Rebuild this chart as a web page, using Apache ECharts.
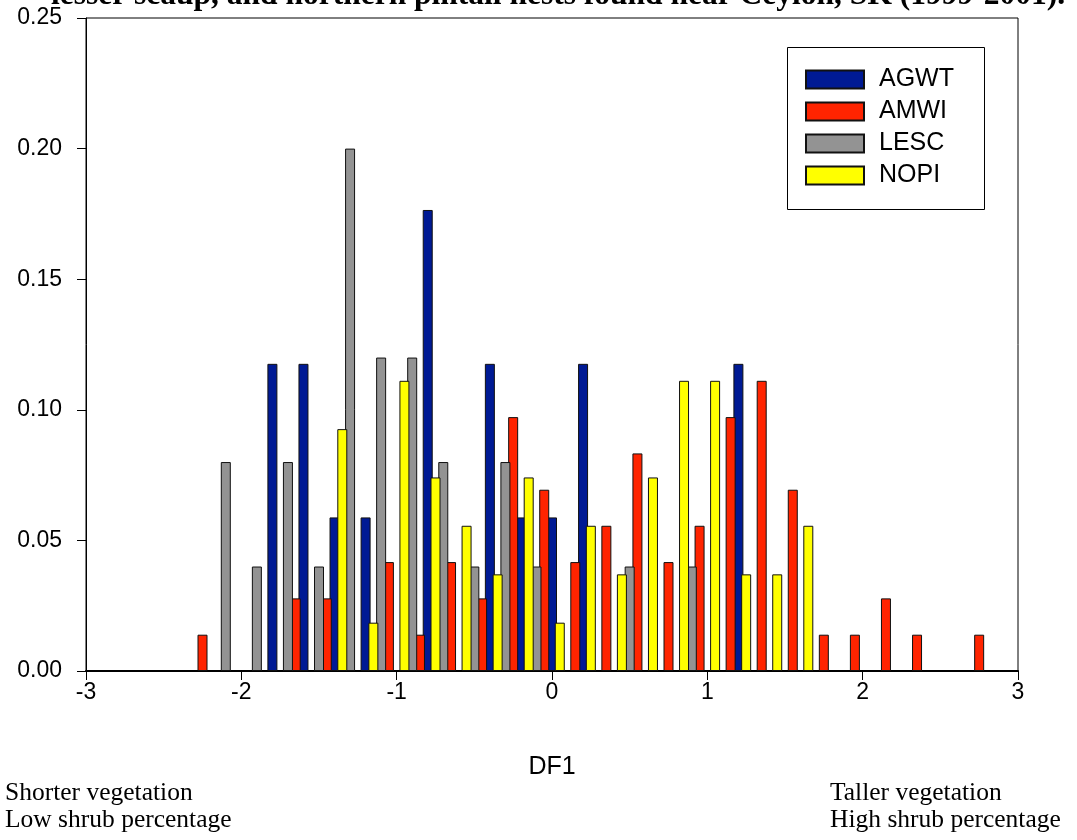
<!DOCTYPE html>
<html>
<head>
<meta charset="utf-8">
<script src="https://cdn.jsdelivr.net/npm/echarts@6/dist/echarts.min.js"></script>
<style>
html,body{margin:0;padding:0;background:#fff;}
#chart{width:1077px;height:840px;}
</style>
</head>
<body>
<div id="chart"></div>
<script>
// Bin centres (DF1) and relative frequencies for each species
const seriesNames = ['AGWT', 'AMWI', 'LESC', 'NOPI'];
const agwtBins = [-1.8, -1.6, -1.4, -1.2, -0.8, -0.4, -0.2, 0.0, 0.2, 1.2];
const agwtVals = [0.1176, 0.1176, 0.0588, 0.0588, 0.1765, 0.1176, 0.0588, 0.0588, 0.1176, 0.1176];
const amwiBins = [-2.25, -1.65, -1.45, -1.05, -0.85, -0.65, -0.45, -0.25, -0.05, 0.15, 0.35, 0.55, 0.75, 0.95, 1.15, 1.35, 1.55, 1.75, 1.95, 2.15, 2.35, 2.75];
const amwiVals = [0.0139, 0.0278, 0.0278, 0.0417, 0.0139, 0.0417, 0.0278, 0.0972, 0.0694, 0.0417, 0.0556, 0.0833, 0.0417, 0.0556, 0.0972, 0.1111, 0.0694, 0.0139, 0.0139, 0.0278, 0.0139, 0.0139];
const lescBins = [-2.1, -1.9, -1.7, -1.5, -1.3, -1.1, -0.9, -0.7, -0.5, -0.3, -0.1, 0.5, 0.9];
const lescVals = [0.08, 0.04, 0.08, 0.04, 0.20, 0.12, 0.12, 0.08, 0.04, 0.08, 0.04, 0.04, 0.04];
const nopiBins = [-1.35, -1.15, -0.95, -0.75, -0.55, -0.35, -0.15, 0.05, 0.25, 0.45, 0.65, 0.85, 1.05, 1.25, 1.45, 1.65];
const nopiVals = [0.0926, 0.0185, 0.1111, 0.0741, 0.0556, 0.0370, 0.0741, 0.0185, 0.0556, 0.0370, 0.0741, 0.1111, 0.1111, 0.0370, 0.0370, 0.0556];

const titleText = 'lesser scaup, and northern pintail nests found near Ceylon, SK (1999-2001).';
const xAxisName = 'DF1';

const colors = ['#001A94', '#FF2400', '#939393', '#FFFF00'];
const binsList = [agwtBins, amwiBins, lescBins, nopiBins];
const valsList = [agwtVals, amwiVals, lescVals, nopiVals];

function pairs(b, v) { return b.map((x, i) => [x, v[i]]); }

const serif = '"Liberation Serif", "Times New Roman", serif';
const chart = echarts.init(document.getElementById('chart'), null, {renderer: 'canvas'});
const option = {
  animation: false,
  backgroundColor: '#ffffff',
  grid: {left: 86, right: 59, top: 18, bottom: 169, show: true, borderColor: '#000', borderWidth: 1, backgroundColor: 'transparent'},
  xAxis: {
    type: 'value', min: -3, max: 3, interval: 1,
    axisLine: {show: true, onZero: false, lineStyle: {color: '#000', width: 2}},
    axisTick: {show: true, length: 9, lineStyle: {color: '#000', width: 1}},
    splitLine: {show: false},
    axisLabel: {color: '#000', fontFamily: 'Liberation Sans, Arial', fontSize: 23, margin: 10},
    name: xAxisName, nameLocation: 'middle', nameGap: 84,
    nameTextStyle: {color: '#000', fontFamily: 'Liberation Sans, Arial', fontSize: 25}
  },
  yAxis: {
    type: 'value', min: 0, max: 0.25, interval: 0.05,
    axisLine: {show: true, onZero: false, lineStyle: {color: '#000', width: 1}},
    axisTick: {show: true, length: 9, lineStyle: {color: '#000', width: 1}},
    splitLine: {show: false},
    axisLabel: {color: '#000', fontFamily: 'Liberation Sans, Arial', fontSize: 23, margin: 24,
      formatter: v => v.toFixed(2)}
  },
  legend: {
    orient: 'vertical', left: 800, top: 62, itemWidth: 58, itemHeight: 18, itemGap: 7,
    icon: 'rect',
    textStyle: {color: '#000', fontFamily: 'Liberation Sans, Arial', fontSize: 25, padding: [0, 0, 0, 10]},
    data: seriesNames
  },
  graphic: [
    {type: 'rect', left: 785, top: 45, shape: {width: 197, height: 162}, style: {fill: 'none', stroke: '#000', lineWidth: 1}, z: 0},
    {type: 'text', x: 558, y: -4, style: {text: titleText, font: 'bold 31.5px ' + serif, fill: '#000', textAlign: 'center', textVerticalAlign: 'middle'}},
    {type: 'text', x: 5, y: 793, style: {text: 'Shorter vegetation', font: '25.5px ' + serif, fill: '#000', textAlign: 'left', textVerticalAlign: 'middle'}},
    {type: 'text', x: 5, y: 820, style: {text: 'Low shrub percentage', font: '25.5px ' + serif, fill: '#000', textAlign: 'left', textVerticalAlign: 'middle'}},
    {type: 'text', x: 830, y: 793, style: {text: 'Taller vegetation', font: '25.5px ' + serif, fill: '#000', textAlign: 'left', textVerticalAlign: 'middle'}},
    {type: 'text', x: 830, y: 820, style: {text: 'High shrub percentage', font: '25.5px ' + serif, fill: '#000', textAlign: 'left', textVerticalAlign: 'middle'}}
  ],
  series: seriesNames.map((n, i) => ({
    name: n, type: 'bar', barWidth: 10, barGap: '-100%',
    data: pairs(binsList[i], valsList[i]),
    itemStyle: {color: colors[i], borderColor: '#111', borderWidth: 1},
    emphasis: {disabled: true}
  }))
};
chart.setOption(option);
</script>
</body>
</html>
